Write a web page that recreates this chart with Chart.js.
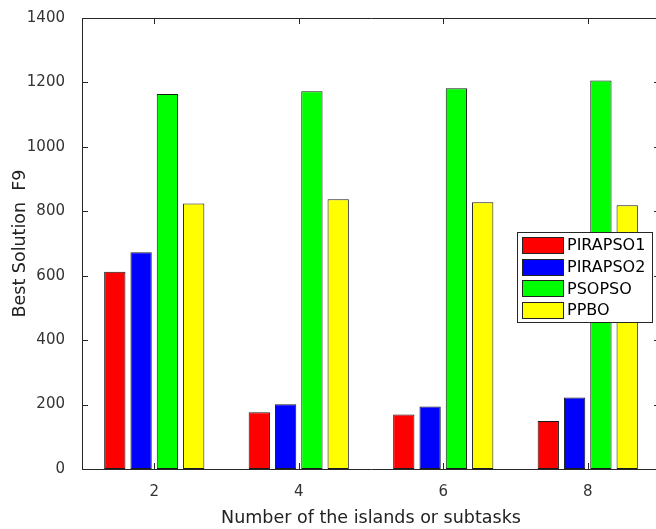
<!DOCTYPE html>
<html><head><meta charset="utf-8">
<script src="https://cdn.jsdelivr.net/npm/chart.js@4"></script>
<style>
html,body{margin:0;padding:0;overflow:hidden;background:#fff}
#wrap{width:656px;height:529px;overflow:hidden;position:relative;background:#fff}
#c{position:absolute;left:0;top:0}
</style></head>
<body><div id="wrap"><canvas id="c" width="672" height="529"></canvas></div>
<script>
const categories = ['2', '4', '6', '8'];
const pirapso1 = [612, 176, 169, 149];
const pirapso2 = [673, 201, 194, 222];
const psopso = [1164, 1173, 1182, 1206];
const ppbo = [824, 837, 828, 819];
const seriesNames = ['PIRAPSO1', 'PIRAPSO2', 'PSOPSO', 'PPBO'];
const seriesColors = ['#ff0000', '#0000ff', '#00ff00', '#ffff00'];
const yTicks = [0, 200, 400, 600, 800, 1000, 1200, 1400];

const FONT = 'DejaVu Sans';
const AXIS = '#262626';

const boxPlugin = {
  id: 'matlabBox',
  afterDatasetsDraw(chart) {
    const {ctx, chartArea: a, scales} = chart;
    ctx.save();
    ctx.strokeStyle = AXIS;
    ctx.lineWidth = 1;
    ctx.beginPath();
    ctx.rect(Math.round(a.left) + 0.5, Math.round(a.top) + 0.5, Math.round(a.right - a.left), Math.round(a.bottom - a.top));
    ctx.stroke();
    const tl = 6;
    ctx.beginPath();
    yTicks.forEach(v => {
      const y = Math.round(scales.y.getPixelForValue(v)) + 0.5;
      ctx.moveTo(a.left, y); ctx.lineTo(a.left + tl, y);
      ctx.moveTo(a.right, y); ctx.lineTo(a.right - tl, y);
    });
    categories.forEach((c, i) => {
      const x = Math.round(scales.x.getPixelForValue(i)) + 0.5;
      ctx.moveTo(x, a.bottom); ctx.lineTo(x, a.bottom - tl);
      ctx.moveTo(x, a.top); ctx.lineTo(x, a.top + tl);
    });
    ctx.stroke();

    // legend
    const lx = 517, ly = 232, lw = 135, lh = 90;
    ctx.fillStyle = '#fff';
    ctx.fillRect(lx, ly, lw, lh);
    ctx.strokeStyle = AXIS;
    ctx.strokeRect(lx + 0.5, ly + 0.5, lw, lh);
    ctx.font = '16px "' + FONT + '"';
    ctx.textBaseline = 'middle';
    ctx.textAlign = 'left';
    chart.data.datasets.forEach((ds, i) => {
      const cy = ly + 13 + i * 21.7;
      ctx.fillStyle = ds.backgroundColor;
      ctx.fillRect(522, Math.round(cy - 8), 41, 16);
      ctx.strokeStyle = '#222';
      ctx.strokeRect(522.5, Math.round(cy - 8) + 0.5, 41, 16);
      ctx.fillStyle = '#000';
      ctx.fillText(ds.label, 567, cy + 1);
    });
    ctx.restore();
  }
};

const datasets = [pirapso1, pirapso2, psopso, ppbo].map((d, i) => ({
  label: seriesNames[i],
  data: d,
  backgroundColor: seriesColors[i],
  borderColor: '#1a1a1a',
  borderWidth: 1,
  borderSkipped: false,
  categoryPercentage: 0.728,
  barPercentage: 0.81
}));

new Chart(document.getElementById('c'), {
  type: 'bar',
  data: { labels: categories, datasets },
  options: {
    responsive: false,
    animation: false,
    devicePixelRatio: 1,
    layout: { padding: { left: 0, top: 14, right: 12, bottom: 0 } },
    plugins: { legend: { display: false }, tooltip: { enabled: false } },
    scales: {
      x: {
        type: 'category',
        offset: true,
        grid: { display: false },
        border: { display: false },
        ticks: { color: '#333', font: { family: FONT, size: 15 }, padding: 6, maxRotation: 0 },
        title: { display: true, text: 'Number of the islands or subtasks', color: '#222', font: { family: FONT, size: 17.5 }, padding: { top: 0, bottom: 0 } },
        afterFit(s) { s.height = 60; }
      },
      y: {
        min: 0, max: 1400,
        afterBuildTicks(s) { s.ticks = yTicks.map(v => ({ value: v })); },
        grid: { display: false },
        border: { display: false },
        ticks: { color: '#333', font: { family: FONT, size: 15 }, padding: 9, callback: v => String(v) },
        title: { display: true, text: 'Best Solution  F9', color: '#222', font: { family: FONT, size: 17.5 }, padding: { top: 10, bottom: 0 } },
        afterFit(s) { s.width = 82; }
      }
    }
  },
  plugins: [boxPlugin]
});
</script>
</body></html>
